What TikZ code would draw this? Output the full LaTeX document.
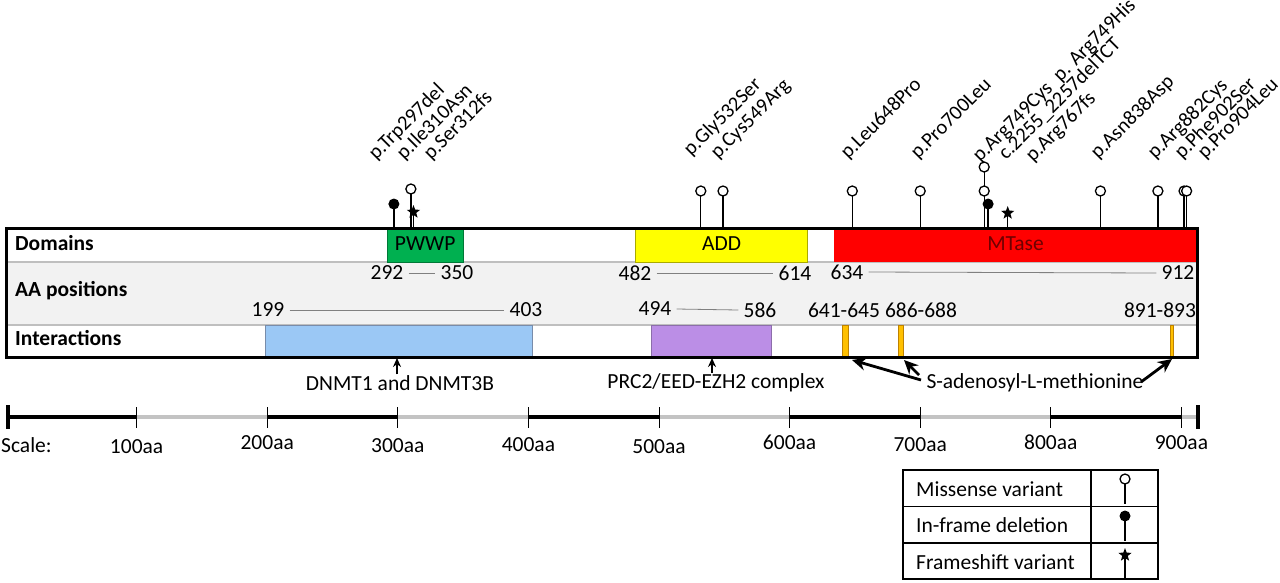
\documentclass[tikz,border=0pt]{standalone}
\usepackage{fontspec}
\setmainfont{Carlito}
\usetikzlibrary{shapes.geometric,arrows.meta}
\definecolor{rowgray}{RGB}{242,242,242}
\definecolor{sepgray}{RGB}{191,191,191}
\definecolor{pwwpc}{RGB}{0,176,80}
\definecolor{pwwpb}{RGB}{0,120,55}
\definecolor{addc}{RGB}{255,255,0}
\definecolor{addb}{RGB}{170,170,0}
\definecolor{mtasec}{RGB}{255,0,0}
\definecolor{mtaset}{RGB}{110,0,0}
\definecolor{bluec}{RGB}{155,200,245}
\definecolor{blueb}{RGB}{120,140,170}
\definecolor{purpc}{RGB}{187,142,230}
\definecolor{purpb}{RGB}{140,110,170}
\definecolor{orc}{RGB}{255,192,0}
\definecolor{orb}{RGB}{190,130,0}
\definecolor{scgray}{RGB}{195,195,195}
\newcommand{\X}[1]{6+1.306*#1}
\tikzset{
  txt/.style={font=\fontsize{21.5}{25}\selectfont, inner sep=0pt},
  rowlab/.style={font=\fontsize{21.5}{25}\selectfont\bfseries, inner sep=0pt, anchor=west},
  varlab/.style={font=\fontsize{20.5}{24}\selectfont, inner sep=0pt, rotate=45, anchor=base west},
  stem/.style={line width=1.3pt},
  opencirc/.style={circle, draw, line width=1.3pt, fill=white, minimum size=10pt, inner sep=0pt},
  fullcirc/.style={circle, fill=black, minimum size=11pt, inner sep=0pt},
  fsstar/.style={star, star points=5, star point ratio=2.4, fill=black, minimum size=14pt, inner sep=0pt},
  arr/.style={line width=2.8pt, -{Stealth[length=14pt,width=13pt]}},
  uparr/.style={line width=2pt, -{Stealth[length=9pt,width=8pt]}},
  scblack/.style={line width=4.5pt, black},
  scgrayline/.style={line width=4.5pt, scgray},
}
\begin{document}
\begin{tikzpicture}[x=1pt,y=-1pt]
\useasboundingbox (0,0) rectangle (1280,582);
% rows
\fill[white] (6,228) rectangle (1197,357);
\fill[rowgray] (6,262) rectangle (1197,325);
\draw[sepgray, line width=1.5pt] (6,262) -- (1197,262);
\draw[sepgray, line width=1.5pt] (6,325) -- (1197,325);
% domains
\draw[fill=pwwpc, draw=pwwpb, line width=0.8pt] ({\X{292}},228) rectangle ({\X{350}},262);
\draw[fill=addc, draw=addb, line width=0.8pt] ({\X{482}},228) rectangle ({\X{614}},262);
\fill[mtasec] ({\X{634}},228) rectangle ({\X{912}},262);
\node[txt] (pwwp) at ({\X{321}},244) {PWWP};
\node[txt] (add) at ({\X{548}},244) {ADD};
\node[txt, text=mtaset] (mtase) at ({\X{773}},244) {MTase};
% interactions
\draw[fill=bluec, draw=blueb, line width=0.8pt] ({\X{199}},325) rectangle ({\X{403}},357);
\draw[fill=purpc, draw=purpb, line width=0.8pt] ({\X{494}},325) rectangle ({\X{586}},357);
\draw[fill=orc, draw=orb, line width=0.6pt] (842.5,325) rectangle (848,357);
\draw[fill=orc, draw=orb, line width=0.6pt] (898.5,325) rectangle (903.5,357);
\draw[fill=orc, draw=orb, line width=0.6pt] (1170.5,325) rectangle (1173,357);
\coordinate (o1) at (852,360);
\coordinate (o2) at (904,360);
\coordinate (o3) at (1172,359);
% row labels
\node[rowlab] (rdom) at (15,243) {Domains};
\node[rowlab] (raa) at (15,291) {AA positions};
\node[rowlab] (rint) at (15,338) {Interactions};
% AA positions
\node[txt] (n292) at (387,273) {292};
\node[txt] (n350) at (457,273) {350};
\draw[gray, line width=0.8pt] ([xshift=5pt]n292.east) -- ([xshift=-5pt]n350.west);
\node[txt] (n482) at (635,273) {482};
\node[txt] (n614) at (795,273) {614};
\draw[gray, line width=0.8pt] ([xshift=5pt]n482.east) -- ([xshift=-5pt]n614.west);
\node[txt] (n634) at (847,272) {634};
\node[txt] (n912) at (1178,273) {912};
\draw[gray, line width=0.8pt] ([xshift=5pt]n634.east) -- ([xshift=-5pt]n912.west);
\node[txt] (n199) at (268,310) {199};
\node[txt] (n403) at (526,310) {403};
\draw[gray, line width=0.8pt] ([xshift=5pt]n199.east) -- ([xshift=-5pt]n403.west);
\node[txt] (n494) at (655,309) {494};
\node[txt] (n586) at (760,310) {586};
\draw[gray, line width=0.8pt] ([xshift=5pt]n494.east) -- ([xshift=-5pt]n586.west);
\node[txt] (n641) at (844,310) {641-645};
\node[txt] (n686) at (921,310) {686-688};
\node[txt] (n891) at (1160,310) {891-893};
% outer box
\draw[line width=3pt] (6,228) rectangle (1197,357);
% labels below
\node[txt] (dnmt) at (400,383) {DNMT1 and DNMT3B};
\node[txt] (prc) at (716,383) {PRC2/EED-EZH2 complex};
\node[txt] (sam) at (1035,383) {S-adenosyl-L-methionine};
\draw[uparr] (dnmt.north -| 397,0) ++(0,-1) -- (397,358);
\draw[uparr] (prc.north -| 712,0) ++(0,-1) -- (712,358);
\coordinate (s1) at (921,380);
\coordinate (s2) at (919,375);
\coordinate (s3) at (1141,382);
\draw[arr] (s1) -- (o1);
\draw[arr] (s2) -- (o2);
\draw[arr] (s3) -- (o3);
% lollipops
\draw[stem] ({\X{297}},228) -- ({\X{297}},204);
\node[fullcirc] (v297) at ({\X{297}},204) {};
\draw[stem] ({\X{310}},228) -- ({\X{310}},194);
\node[opencirc] (v310) at ({\X{310}},189) {};
\draw[stem] ({\X{312}},228) -- ({\X{312}},212);
\node[fsstar] (v312) at ({\X{312}},212) {};
\foreach \p in {532,549,648,700,838,882,902,904}{
  \draw[stem] ({\X{\p}},228) -- ({\X{\p}},195);
  \node[opencirc] (v\p) at ({\X{\p}},191) {};
}
\draw[stem] ({\X{749}},228) -- ({\X{749}},171);
\node[opencirc] (v749a) at ({\X{749}},191) {};
\node[opencirc] (v749b) at ({\X{749}},167) {};
\draw[stem] ({\X{752}},228) -- ({\X{752}},204);
\node[fullcirc] (v752) at ({\X{752}},204) {};
\draw[stem] ({\X{767}},228) -- ({\X{767}},213);
\node[fsstar] (v767) at ({\X{767}},213) {};
% variant labels
\node[varlab] (l297) at (376,161) {p.Trp297del};
\node[varlab] (l310) at (404,161) {p.Ile310Asn};
\node[varlab] (l312) at (431,161) {p.Ser312fs};
\node[varlab] (l532) at (691,157) {p.Gly532Ser};
\node[varlab] (l549) at (718,160) {p.Cys549Arg};
\node[varlab] (l648) at (848,160) {p.Leu648Pro};
\node[varlab] (l700) at (918,160) {p.Pro700Leu};
\node[varlab] (l749c) at (980,163) {p.Arg749Cys};
\node[varlab] (l749h) at ([shift={(7,-7)}]l749c.base east) {p. Arg749His};
\node[varlab] (l752) at (1006,161) {c.2255\_2257delTCT};
\node[varlab] (l767) at (1033,163) {p.Arg767fs};
\node[varlab] (l838) at (1098,160) {p.Asn838Asp};
\node[varlab] (l882) at (1155,160) {p.Arg882Cys};
\node[varlab] (l902) at (1182,160) {p.Phe902Ser};
\node[varlab] (l904) at (1205,160) {p.Pro904Leu};
% scale
\foreach \i in {1,3,5,7}{
  \draw[scgrayline] ({\X{\i*100}},417) -- ({\X{(\i+1)*100}},417);
}
\draw[scgrayline] ({\X{900}},417) -- ({\X{912}},417);
\foreach \i in {0,2,4,6,8}{
  \draw[scblack] ({\X{\i*100}},417) -- ({\X{(\i+1)*100}},417);
}
\foreach \i in {1,...,9}{
  \draw[line width=1pt] ({\X{\i*100}},407) -- ({\X{\i*100}},428);
}
\draw[line width=4pt] (8,405) -- (8,429);
\draw[line width=4pt] (1198,405) -- (1198,429);
\node[txt, anchor=west] (scl) at (1,445) {Scale:};
\foreach \i/\yy in {1/447,2/443,3/446,4/445,5/447,6/442,7/445,8/442,9/443}{
  \node[txt] (t\i) at ({\X{\i*100}},\yy) {\i00aa};
}
% legend
\draw[line width=1.2pt] (903,470) rectangle (1158,579);
\draw[line width=1.2pt] (903,506.5) -- (1158,506.5);
\draw[line width=1.2pt] (903,543) -- (1158,543);
\draw[line width=1.2pt] (1091,470) -- (1091,579);
\node[txt, anchor=west] (lg1) at (916,489) {Missense variant};
\node[txt, anchor=west] (lg2) at (916,525) {In-frame deletion};
\node[txt, anchor=west] (lg3) at (916,562) {Frameshift variant};
\draw[stem] (1125,484) -- (1125,504);
\node[opencirc] (lgs1) at (1125,479) {};
\draw[stem] (1125,516) -- (1125,541);
\node[fullcirc] (lgs2) at (1125,516) {};
\draw[stem] (1125,555) -- (1125,578);
\node[fsstar] (lgs3) at (1125,555) {};
\end{tikzpicture}
\end{document}
